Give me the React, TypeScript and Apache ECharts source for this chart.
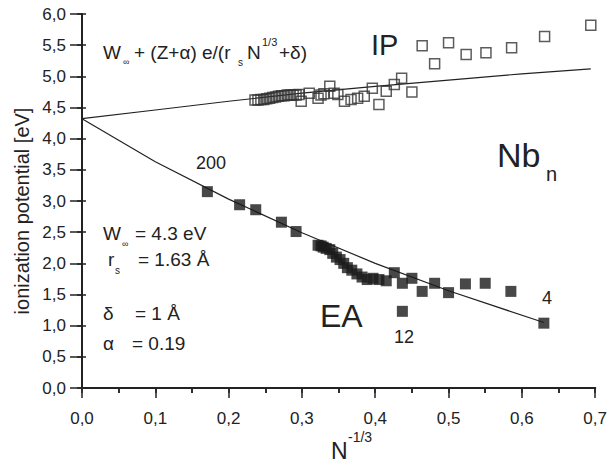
import React, { useEffect, useRef } from 'react';
import * as echarts from 'echarts';

// Electron affinity (filled squares): x = N^(-1/3), y = eV
const eaX = [0.171, 0.215, 0.237, 0.272, 0.292, 0.322, 0.326, 0.329, 0.333, 0.338, 0.342, 0.347, 0.352, 0.357, 0.362, 0.368, 0.375, 0.382, 0.389, 0.397, 0.405, 0.415, 0.426, 0.437, 0.437, 0.45, 0.464, 0.481, 0.5, 0.523, 0.55, 0.585, 0.63];
const eaY = [3.15, 2.94, 2.86, 2.66, 2.51, 2.29, 2.28, 2.26, 2.24, 2.22, 2.16, 2.10, 2.06, 2.00, 1.93, 1.89, 1.83, 1.78, 1.74, 1.76, 1.74, 1.72, 1.85, 1.68, 1.23, 1.76, 1.55, 1.68, 1.53, 1.67, 1.68, 1.55, 1.04];

// Ionization potential (open squares)
const ipX = [0.236, 0.240, 0.244, 0.248, 0.252, 0.256, 0.260, 0.264, 0.268, 0.272, 0.276, 0.280, 0.284, 0.288, 0.292, 0.296, 0.299, 0.310, 0.322, 0.326, 0.330, 0.338, 0.344, 0.349, 0.358, 0.367, 0.376, 0.385, 0.396, 0.405, 0.415, 0.426, 0.436, 0.45, 0.464, 0.481, 0.5, 0.524, 0.551, 0.586, 0.631, 0.694];
const ipY = [4.62, 4.62, 4.63, 4.63, 4.64, 4.65, 4.66, 4.67, 4.68, 4.69, 4.69, 4.70, 4.70, 4.70, 4.70, 4.71, 4.60, 4.73, 4.65, 4.70, 4.72, 4.84, 4.73, 4.71, 4.60, 4.63, 4.65, 4.68, 4.81, 4.55, 4.76, 4.87, 4.97, 4.75, 5.49, 5.20, 5.54, 5.35, 5.38, 5.46, 5.64, 5.82];

// Model curves
const ipLineX = [0, 0.1, 0.2, 0.3, 0.4, 0.5, 0.6, 0.694];
const ipLineY = [4.32, 4.46, 4.60, 4.73, 4.84, 4.94, 5.04, 5.12];
const eaLineX = [0, 0.1, 0.2, 0.3, 0.4, 0.5, 0.63];
const eaLineY = [4.32, 3.63, 3.03, 2.49, 2.00, 1.56, 1.05];

const FONT = 'Liberation Sans, Arial, sans-serif';
const INK = '#222';

const comma = (v: number) => v.toFixed(1).replace('.', ',');
const zip = (a: number[], b: number[]) => a.map((v, i) => [v, b[i]]);

function txt(text: string, x: number, y: number, size: number, extra: any = {}) {
  return {
    type: 'text',
    x,
    y,
    ...extra,
    style: {
      text,
      fontFamily: FONT,
      fontSize: size,
      fill: INK,
      textAlign: 'left',
      textVerticalAlign: 'middle',
      ...(extra.style || {}),
    },
  };
}

export default function App() {
  const ref = useRef<HTMLDivElement>(null);
  useEffect(() => {
    if (!ref.current) return;
    const chart = echarts.init(ref.current, undefined, { renderer: 'svg' });
    const axisLine = { show: true, lineStyle: { color: INK, width: 2 } };
    chart.setOption({
      animation: false,
      backgroundColor: '#fff',
      grid: { left: 82, right: 13, top: 14, bottom: 78 },
      xAxis: [
        {
          type: 'value', position: 'bottom', min: 0, max: 0.7, interval: 0.1,
          axisLine, splitLine: { show: false },
          axisTick: { show: true, inside: false, length: 10, lineStyle: { color: INK, width: 1.5 } },
          minorTick: { show: true, splitNumber: 2, length: 5, lineStyle: { color: INK, width: 1.5 } },
          axisLabel: { formatter: comma, fontFamily: FONT, fontSize: 17, color: INK, margin: 22 },
        },
        {
          type: 'value', position: 'top', min: 0, max: 0.7, interval: 0.05,
          axisLine, splitLine: { show: false },
          axisTick: { show: true, inside: true, length: 5, lineStyle: { color: INK, width: 1.5 } },
          axisLabel: { show: false },
        },
      ],
      yAxis: [
        {
          type: 'value', position: 'left', min: 0, max: 6, interval: 0.5,
          axisLine, splitLine: { show: false },
          axisTick: { show: true, inside: false, length: 12, lineStyle: { color: INK, width: 1.5 } },
          axisLabel: { formatter: comma, fontFamily: FONT, fontSize: 17, color: INK, margin: 16 },
        },
        {
          type: 'value', position: 'right', min: 0, max: 6, interval: 0.5,
          axisLine, splitLine: { show: false },
          axisTick: { show: true, inside: true, length: 5, lineStyle: { color: INK, width: 1.5 } },
          axisLabel: { show: false },
        },
        {
          type: 'value', position: 'left', min: 0, max: 6, interval: 0.5,
          axisLine: { show: false }, splitLine: { show: false },
          axisTick: { show: true, inside: true, length: 4, lineStyle: { color: INK, width: 1.5 } },
          axisLabel: { show: false },
        },
      ],
      series: [
        {
          type: 'line', data: zip(ipLineX, ipLineY), showSymbol: false, symbol: 'none',
          lineStyle: { color: INK, width: 1.2 }, z: 2,
        },
        {
          type: 'line', data: zip(eaLineX, eaLineY), showSymbol: false, symbol: 'none',
          lineStyle: { color: INK, width: 1.2 }, z: 2,
        },
        {
          type: 'scatter', data: zip(ipX, ipY), symbol: 'rect', symbolSize: 10,
          itemStyle: { color: 'rgba(0,0,0,0)', borderColor: '#333', borderWidth: 1.5 }, z: 3,
        },
        {
          type: 'scatter', data: zip(eaX, eaY), symbol: 'rect', symbolSize: 11,
          itemStyle: { color: '#1a1a1a' }, z: 3,
        },
      ],
      graphic: [
        // formula
        txt('W', 103, 52, 19),
        txt('\u221E', 123, 62, 9),
        txt('+ (Z+\u03B1) e/(r', 134, 52, 19),
        txt('s', 238, 62, 10),
        txt('N', 247, 52, 19),
        txt('1/3', 262, 42, 11),
        txt('+\u03B4)', 279, 52, 19),
        // IP / Nb / EA
        txt('IP', 371, 45, 29),
        txt('Nb', 497, 155, 34),
        txt('n', 546, 174, 20),
        txt('EA', 320, 316, 32),
        txt('200', 196, 163, 18),
        txt('12', 394, 337, 18),
        txt('4', 542, 298, 18),
        // parameters
        txt('W', 103, 233, 19),
        txt('\u221E', 122, 244, 9),
        txt('= 4.3 eV', 135, 233, 19),
        txt('r', 108, 259, 19),
        txt('s', 115, 270, 10),
        txt('= 1.63 \u00C5', 138, 259, 19),
        txt('\u03B4', 103, 313, 19),
        txt('= 1 \u00C5', 135, 313, 19),
        txt('\u03B1', 103, 343, 19),
        txt('= 0.19', 132, 343, 19),
        // axis names
        txt('ionization potential [eV]', 22, 211, 20, { rotation: Math.PI / 2, style: { textAlign: 'center' } }),
        txt('N', 331, 451, 23),
        txt('-1/3', 348, 437, 14),
      ],
    });
    return () => chart.dispose();
  }, []);
  return <div ref={ref} style={{ position: 'fixed', left: 0, top: 0, width: 610, height: 466 }} />;
}
